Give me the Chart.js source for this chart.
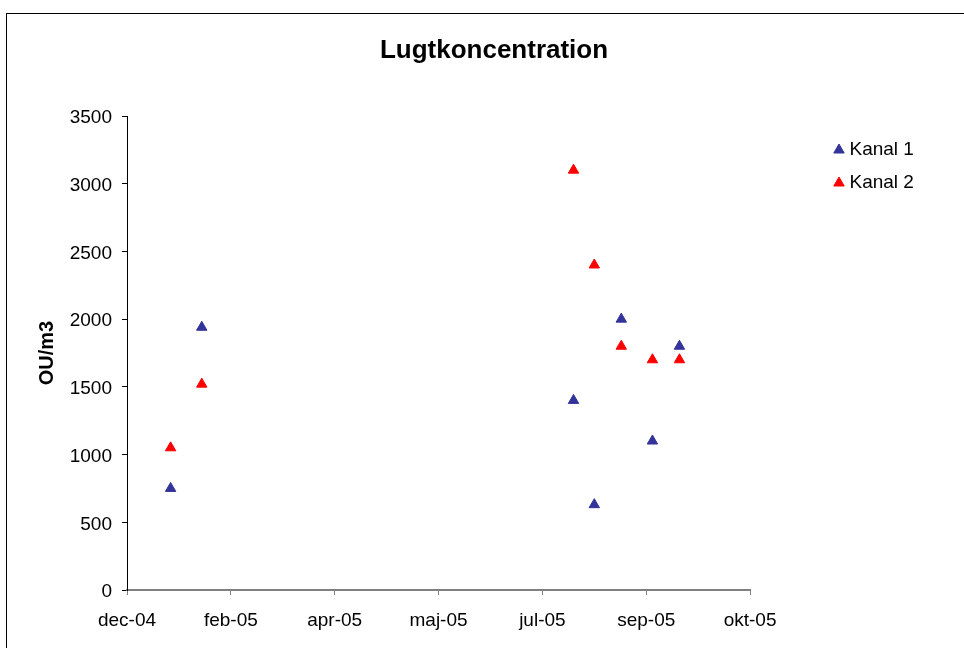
<!DOCTYPE html>
<html>
<head>
<meta charset="utf-8">
<script src="https://cdn.jsdelivr.net/npm/chart.js@4.4.1/dist/chart.umd.min.js"></script>
<style>
  html, body { margin: 0; padding: 0; background: #fff; }
  #wrap { width: 964px; height: 648px; }
</style>
</head>
<body>
<div id="wrap"><canvas id="lugt"></canvas></div>
<script>
// Prøvedatoer og målte værdier (OU/m3)
const datoer = ["2005-01-18", "2005-02-02", "2005-07-31", "2005-08-10", "2005-08-23", "2005-09-07", "2005-09-20"];
const kanal1 = [750, 1940, 1400, 630, 2000, 1100, 1800];
const kanal2 = [1050, 1520, 3100, 2400, 1800, 1700, 1700];

// Datoakse: start, interval i dage, antal intervaller
const akseStart = "2004-12-28";
const akseTrin = 50;
const akseAntal = 6;
const maaneder = ["jan", "feb", "mar", "apr", "maj", "jun", "jul", "aug", "sep", "okt", "nov", "dec"];

const yMax = 3500;
const yTrin = 500;

const DAG = 86400000;
const start = Date.parse(akseStart);
const dagNr = (d) => (Date.parse(d) - start) / DAG;

function punkter(vaerdier) {
  return datoer.map((d, i) => ({ x: dagNr(d), y: vaerdier[i] }));
}

function datoLabel(v) {
  const d = new Date(start + v * DAG);
  return maaneder[d.getUTCMonth()] + "-" + String(d.getUTCFullYear()).slice(2);
}

// Ramme rundt om diagrammet
const ramme = {
  id: "ramme",
  beforeDraw(chart) {
    const c = chart.ctx;
    c.save();
    c.fillStyle = "#fff";
    c.fillRect(0, 0, chart.width, chart.height);
    c.strokeStyle = "#000";
    c.lineWidth = 1;
    c.strokeRect(6.5, 13.5, chart.width + 20, chart.height + 20);
    c.restore();
  },
};

// Placer titel midt i rammen og signaturforklaringen til højre for plotområdet
const placering = {
  id: "placering",
  afterLayout(chart) {
    const t = chart.titleBlock;
    const tdx = 494 - (t.left + t.right) / 2;
    t.left += tdx;
    t.right += tdx;

    const lg = chart.legend;
    const dx = 824 - lg.left;
    const dy = 126.5 - lg.top;
    lg.left += dx;
    lg.right += dx;
    lg.top += dy;
    lg.bottom += dy;
  },
};

Chart.defaults.font.family = "'Liberation Sans', Arial, sans-serif";
Chart.defaults.color = "#000";

const ctx = document.getElementById("lugt");

new Chart(ctx, {
  type: "scatter",
  data: {
    datasets: [
      {
        label: "Kanal 1",
        data: punkter(kanal1),
        backgroundColor: "#333399",
        borderColor: "#333399",
        borderWidth: 1,
        pointStyle: "triangle",
        pointRadius: 6,
        pointHoverRadius: 6,
      },
      {
        label: "Kanal 2",
        data: punkter(kanal2),
        backgroundColor: "#ff0000",
        borderColor: "#ff0000",
        borderWidth: 1,
        pointStyle: "triangle",
        pointRadius: 6,
        pointHoverRadius: 6,
      },
    ],
  },
  options: {
    responsive: true,
    maintainAspectRatio: false,
    animation: false,
    devicePixelRatio: 1,
    layout: {
      padding: { left: 7, top: 13, right: 114, bottom: 0 },
    },
    plugins: {
      title: {
        display: true,
        text: "Lugtkoncentration",
        font: { size: 26, weight: "bold" },
        padding: { top: 22, bottom: 49.8 },
      },
      legend: {
        position: "right",
        align: "start",
        labels: {
          usePointStyle: true,
          boxWidth: 2,
          boxHeight: 8.5,
          padding: 14,
          font: { size: 19 },
        },
      },
      tooltip: { enabled: false },
    },
    scales: {
      x: {
        type: "linear",
        min: 0,
        max: akseTrin * akseAntal,
        afterFit(scale) {
          scale.height = 58;
        },
        border: { display: true, color: "#808080", width: 2 },
        grid: {
          drawOnChartArea: false,
          drawTicks: true,
          tickLength: 5,
          color: "#808080",
        },
        ticks: {
          stepSize: akseTrin,
          autoSkip: false,
          maxRotation: 0,
          padding: 14,
          font: { size: 19 },
          callback: (v) => datoLabel(v),
        },
      },
      y: {
        min: 0,
        max: yMax,
        afterFit(scale) {
          scale.width = 120;
        },
        border: { display: true, color: "#000", width: 1 },
        grid: {
          drawOnChartArea: false,
          drawTicks: true,
          tickLength: 5,
          color: "#000",
        },
        ticks: {
          stepSize: yTrin,
          padding: 10,
          labelOffset: 2,
          font: { size: 19 },
          callback: (v) => String(v),
        },
        title: {
          display: true,
          text: "OU/m3",
          font: { size: 20, weight: "bold" },
          padding: { top: 28, bottom: 0 },
        },
      },
    },
  },
  plugins: [ramme, placering],
});
</script>
</body>
</html>
